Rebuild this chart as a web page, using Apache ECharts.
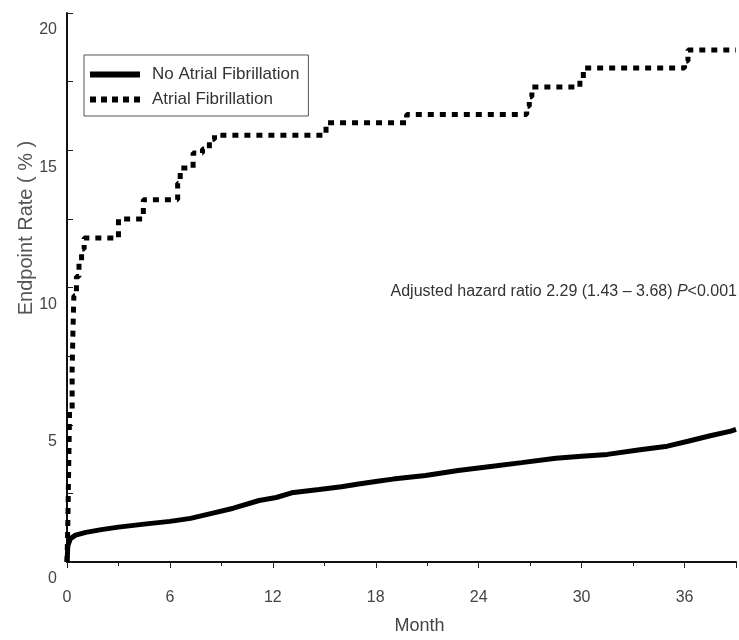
<!DOCTYPE html>
<html>
<head>
<meta charset="utf-8">
<script src="https://cdn.jsdelivr.net/npm/echarts@6/dist/echarts.min.js"></script>
<style>html,body{margin:0;padding:0;background:#fff}#c{width:739px;height:640px}</style>
</head>
<body>
<div id="c"></div>
<script>
const seriesNames = ['No Atrial Fibrillation', 'Atrial Fibrillation'];
const xTicks = [0, 6, 12, 18, 24, 30, 36];
const yTicks = [0, 5, 10, 15, 20];
// [month, endpoint rate %]
const noAF = [[0,0],[0.05,0.6],[0.2,0.85],[0.5,0.98],[1.1,1.08],[2,1.18],[3,1.27],[4.5,1.38],[6,1.48],[7.2,1.59],[8.5,1.78],[9.7,1.96],[11.2,2.24],[12.2,2.35],[13.1,2.52],[14.7,2.64],[16,2.74],[17,2.84],[18.2,2.95],[19,3.02],[20.9,3.15],[22.8,3.33],[24.7,3.48],[26.5,3.62],[28.5,3.78],[30,3.85],[31.5,3.92],[33.3,4.08],[35,4.22],[36.2,4.4],[37.5,4.6],[38.7,4.77],[39,4.83]];
const af = [[0,0],[0.05,1.5],[0.1,3.5],[0.15,5.5],[0.3,7],[0.35,8.5],[0.4,9.7],[0.55,10.4],[0.7,10.9],[0.85,11.4],[1.0,11.8],[3.0,12.5],[4.45,13.2],[6.45,13.8],[6.6,14.35],[7.35,14.9],[7.9,15.05],[8.3,15.4],[8.6,15.55],[15.1,16.0],[19.8,16.3],[26.8,16.6],[26.95,16.95],[27.1,17.3],[29.9,17.6],[30.1,18.0],[36.0,18.25],[36.2,18.65],[39,18.65]];
const annotation = 'Adjusted hazard ratio 2.29 (1.43 \u2013 3.68) ';
const yTitle = 'Endpoint Rate ( % )';
const xTitle = 'Month';

const FONT = "'Liberation Sans',Arial,sans-serif";
const dotIcon = 'path://M0,0h6v6h-6z M11,0h6v6h-6z M22,0h6v6h-6z M33,0h6v6h-6z M44,0h6v6h-6z';
const chart = echarts.init(document.getElementById('c'));
chart.setOption({
  animation: false,
  backgroundColor: '#fff',
  grid: {left: 67, right: 2, top: 13, bottom: 75, containLabel: false},
  legend: {
    orient: 'vertical', left: 84, top: 55,
    data: [
      {name: seriesNames[0], icon: 'rect', itemStyle: {color: '#000'}},
      {name: seriesNames[1], icon: dotIcon, itemStyle: {color: '#000'}}
    ],
    borderColor: '#555', borderWidth: 1,
    padding: [11, 9, 8, 6],
    itemWidth: 50, itemHeight: 6, itemGap: 8,
    textStyle: {fontFamily: FONT, fontSize: 17, color: '#333', padding: [0,0,0,7]}
  },
  xAxis: {
    type: 'value', min: 0, max: 39, interval: 6,
    name: xTitle, nameLocation: 'middle', nameGap: 55,
    nameTextStyle: {fontFamily: FONT, fontSize: 18, color: '#444', padding: [0,0,0,36]},
    axisLine: {lineStyle: {color: '#111', width: 2}},
    axisTick: {show: true, inside: false, length: 6, lineStyle: {color: '#222'}},
    minorTick: {show: true, splitNumber: 2, length: 4, lineStyle: {color: '#222'}},
    splitLine: {show: false},
    axisLabel: {
      fontFamily: FONT, fontSize: 16, color: '#444', margin: 28,
      formatter: v => xTicks.indexOf(v) >= 0 ? String(v) : ''
    }
  },
  yAxis: {
    type: 'value', min: 0, max: 20, interval: 5,
    axisLine: {show: true, lineStyle: {color: '#111', width: 2}},
    axisTick: {show: true, inside: true, length: 6, lineStyle: {color: '#222'}},
    minorTick: {show: true, splitNumber: 2, length: 6, lineStyle: {color: '#222'}},
    splitLine: {show: false},
    axisLabel: {
      fontFamily: FONT, fontSize: 16, color: '#444', margin: 10,
      verticalAlign: 'top', padding: [9, 0, 0, 0],
      formatter: v => yTicks.indexOf(v) >= 0 ? String(v) : ''
    }
  },
  series: [
    {
      name: seriesNames[0], type: 'line', data: noAF, symbol: 'none',
      lineStyle: {color: '#000', width: 5},
      itemStyle: {color: '#000'}, z: 3
    },
    {
      name: seriesNames[1], type: 'line', data: af, symbol: 'none', step: 'end',
      lineStyle: {color: '#000', width: 5, type: [6, 6]},
      itemStyle: {color: '#000'}, z: 4
    }
  ],
  graphic: [
    {
      type: 'text', x: 26, y: 228, rotation: Math.PI / 2,
      style: {text: yTitle, font: "20px " + FONT, fill: '#555', align: 'center', verticalAlign: 'middle'}
    },
    {
      type: 'text', right: 2, top: 284,
      style: {
        text: annotation + '{i|P}<0.001',
        font: "16px " + FONT, fill: '#333',
        rich: {i: {fontStyle: 'italic', fontFamily: FONT, fontSize: 16, fill: '#333'}}
      }
    }
  ]
});
</script>
</body>
</html>
